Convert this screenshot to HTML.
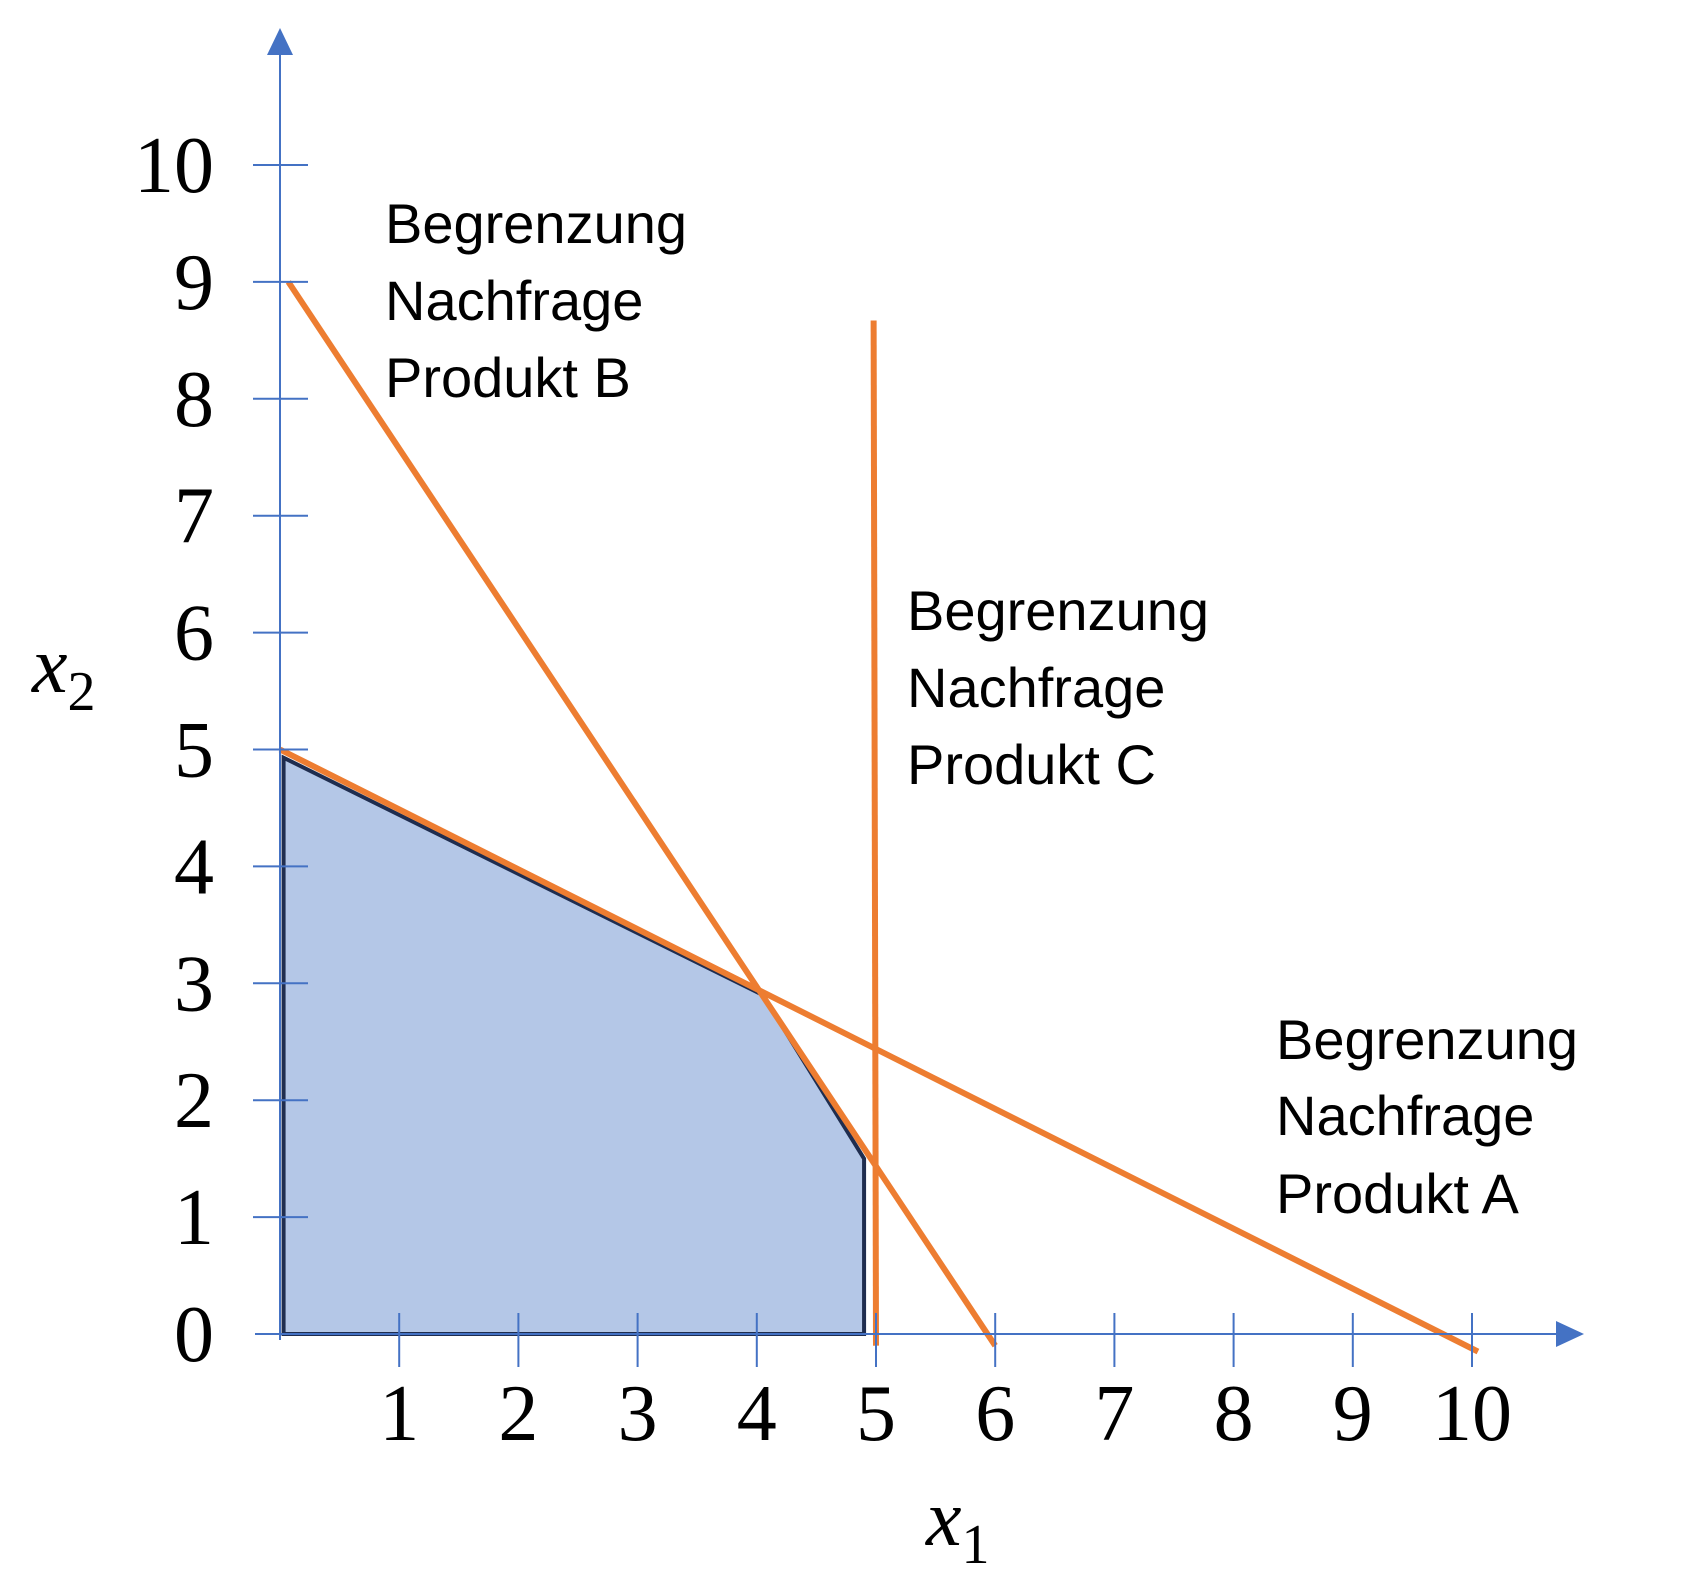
<!DOCTYPE html>
<html><head><meta charset="utf-8"><style>
html,body{margin:0;padding:0;background:#fff;}
svg{display:block;}
.num{font-family:"Liberation Serif",serif;font-size:80px;fill:#000;}
.lab{font-family:"Liberation Sans",sans-serif;font-size:56px;fill:#000;}
</style></head><body>
<svg id="chart" width="1696" height="1583" viewBox="0 0 1696 1583">
<g id="g-area"></g>
<g id="g-lines"></g>
<g id="g-axes"></g>
<g id="g-text">
<text class="lab" x="385" y="243">Begrenzung</text>
<text class="lab" x="385" y="320">Nachfrage</text>
<text class="lab" x="385" y="397">Produkt B</text>
<text class="lab" x="907" y="630">Begrenzung</text>
<text class="lab" x="907" y="707">Nachfrage</text>
<text class="lab" x="907" y="784">Produkt C</text>
<text class="lab" x="1276" y="1059">Begrenzung</text>
<text class="lab" x="1276" y="1135">Nachfrage</text>
<text class="lab" x="1276" y="1213">Produkt A</text>
<text x="926" y="1545" font-family="Liberation Serif,serif" font-style="italic" font-size="80">x<tspan font-style="normal" font-size="56" dy="18">1</tspan></text>
<text x="32" y="692" font-family="Liberation Serif,serif" font-style="italic" font-size="80">x<tspan font-style="normal" font-size="56" dy="18">2</tspan></text>
</g>
</svg>
<script>
const xTicks=[1,2,3,4,5,6,7,8,9,10];
const yTicks=[0,1,2,3,4,5,6,7,8,9,10];
const lineA=[[0,5],[10.05,-0.15]];
const lineB=[[0.07,9],[6,-0.1]];
const lineC=[[4.98,8.67],[5.0,-0.1]];
const region=[[0.03,0],[0.03,4.93],[4.05,2.9],[4.9,1.5],[4.9,0]];
const X0=280,XS=119.2,Y0=1334,YS=116.9;
const sx=v=>X0+v*XS, sy=v=>Y0-v*YS;
const NS="http://www.w3.org/2000/svg";
function mk(tag,parent,attrs){const e=document.createElementNS(NS,tag);for(const k in attrs)e.setAttribute(k,attrs[k]);parent.appendChild(e);return e;}
const ga=document.getElementById('g-area'),gl=document.getElementById('g-lines'),gx=document.getElementById('g-axes');
const poly=mk('polygon',ga,{points:region.map(p=>sx(p[0])+','+sy(p[1])).join(' '),fill:'#b4c7e7',stroke:'#1f2d4f','stroke-width':4,'stroke-linejoin':'miter'});


const blue='#4472c4';
const xa=mk('line',gx,{x1:255,y1:Y0,x2:1560,y2:Y0,stroke:blue,'stroke-width':2});


const xar=mk('polygon',gx,{points:'1556,1321 1584,1334 1556,1347',fill:blue});


const ya=mk('line',gx,{x1:X0,y1:1340,x2:X0,y2:50,stroke:blue,'stroke-width':2});


const yar=mk('polygon',gx,{points:'267,55 280,28 293,55',fill:blue});


xTicks.forEach(t=>{
 const l=mk('line',gx,{x1:sx(t),y1:Y0-21,x2:sx(t),y2:Y0+33,stroke:blue,'stroke-width':2});
 
 
 const tx=mk('text',gx,{x:sx(t),y:1440,'text-anchor':'middle',class:'num'});tx.textContent=t;
 
 
});
yTicks.forEach(t=>{
 if(t>0){const l=mk('line',gx,{x1:253,y1:sy(t),x2:308,y2:sy(t),stroke:blue,'stroke-width':2});
 
 }
 const tx=mk('text',gx,{x:214,y:sy(t)+27,'text-anchor':'end',class:'num'});tx.textContent=t;
 
 
});
[[lineA,'constraint-a'],[lineB,'constraint-b'],[lineC,'constraint-c']].forEach(([d,n])=>{
 const l=mk('line',gl,{x1:sx(d[0][0]),y1:sy(d[0][1]),x2:sx(d[1][0]),y2:sy(d[1][1]),stroke:'#ed7d31','stroke-width':6});
 
 
});
</script>
</body></html>
